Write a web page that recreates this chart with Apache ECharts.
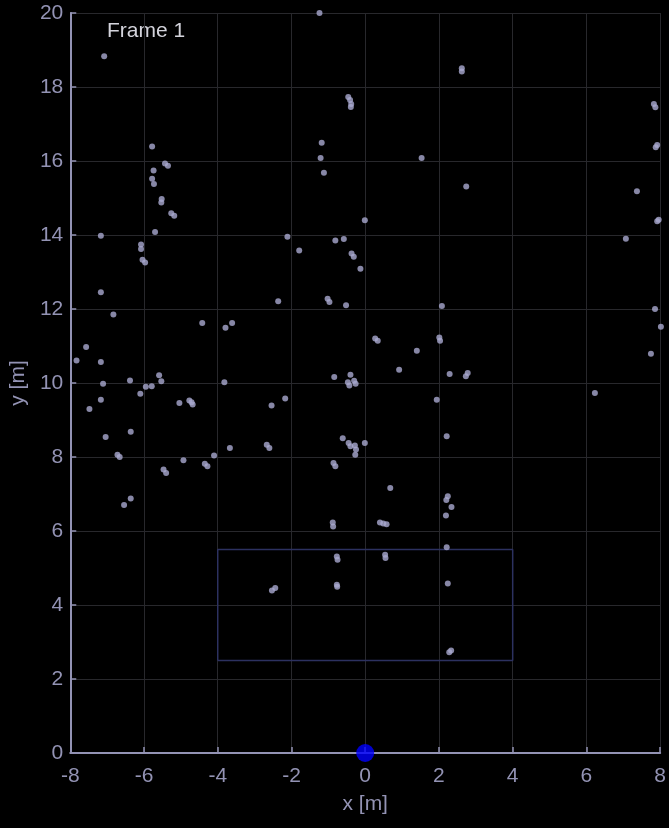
<!DOCTYPE html>
<html><head><meta charset="utf-8">
<script src="https://cdn.jsdelivr.net/npm/echarts@6/dist/echarts.min.js"></script>
<style>html,body{margin:0;padding:0;background:#000;}#c{width:669px;height:828px;}</style>
</head><body><div id="c"></div>
<script>
const pointX = [-7.08,-5.78,-5.74,-5.78,-5.73,-5.43,-5.35,-5.52,-5.53,-1.24,-0.46,-0.41,-0.38,-0.39,-1.18,-1.21,-1.12,1.53,2.62,2.62,7.83,7.87,7.92,7.88,2.74,7.37,-5.26,-5.18,-7.17,-5.70,-6.08,-6.08,-6.04,-5.97,-7.17,-6.83,-7.57,-7.83,-7.17,-4.42,-3.79,-3.61,-7.11,-6.38,-5.95,-5.79,-5.59,-5.53,-3.82,-6.10,-7.48,-7.17,-7.04,-6.36,-6.72,-6.66,-6.54,-6.36,-5.04,-4.77,-4.71,-4.68,-5.47,-5.40,-4.93,-4.35,-4.28,-4.10,-3.67,-0.01,-2.11,-1.79,-0.81,-0.58,-0.37,-0.31,-0.13,-2.36,-1.02,-0.97,-0.52,2.08,0.27,0.34,2.01,2.03,1.40,0.92,-0.84,-0.40,-0.47,-0.43,-0.30,-0.26,2.29,-2.54,-2.17,1.94,-2.67,-2.60,-0.61,-0.45,-0.40,-0.28,-0.25,-0.27,-0.01,-0.86,-0.81,0.68,2.21,2.24,2.20,2.34,2.19,-0.88,-0.87,0.40,0.49,0.58,2.21,-0.77,-0.75,0.54,0.55,6.23,7.92,7.96,7.07,7.86,8.02,7.75,2.73,2.78,-2.53,-2.44,-0.77,-0.76,2.24,2.28,2.33];
const pointY = [18.83,16.39,15.74,15.52,15.38,15.93,15.87,14.97,14.88,20.0,17.73,17.65,17.54,17.46,16.49,16.08,15.68,16.08,18.51,18.42,17.54,17.45,16.43,16.37,15.31,15.18,14.59,14.52,13.98,14.08,13.74,13.62,13.33,13.26,12.45,11.85,10.97,10.61,10.57,11.62,11.49,11.62,9.98,10.07,9.90,9.91,10.21,10.05,10.02,9.71,9.30,9.55,8.54,8.68,8.06,8.00,6.70,6.88,9.46,9.53,9.48,9.42,7.66,7.57,7.91,7.82,7.75,8.04,8.24,14.40,13.95,13.58,13.85,13.89,13.50,13.41,13.09,12.21,12.28,12.19,12.10,12.08,11.20,11.14,11.23,11.14,10.87,10.36,10.16,10.22,10.02,9.93,10.06,9.98,10.24,9.39,9.58,9.55,8.33,8.24,8.51,8.38,8.29,8.31,8.20,8.06,8.38,7.84,7.75,7.16,8.56,6.94,6.84,6.65,6.42,6.23,6.12,6.23,6.20,6.18,5.56,5.31,5.22,5.36,5.27,9.73,14.37,14.41,13.90,12.00,11.52,10.79,10.18,10.27,4.39,4.46,4.55,4.49,4.58,2.72,2.77];
const roiX = [-4, 4, 4, -4, -4];
const roiY = [2.5, 2.5, 5.5, 5.5, 2.5];
const sensorX = [0];
const sensorY = [0];
const frameLabel = 'Frame 1';

const pts = pointX.map((x, i) => [x, pointY[i]]);
const roi = roiX.map((x, i) => [x, roiY[i]]);
const sensor = sensorX.map((x, i) => [x, sensorY[i]]);

const axisCol = '#9393b4';
const font = 'Liberation Sans, Arial, sans-serif';
const chart = echarts.init(document.getElementById('c'), null, {renderer: 'canvas'});
chart.setOption({
  backgroundColor: '#000',
  animation: false,
  grid: {left: 70, top: 13, width: 591, height: 740, containLabel: false},
  xAxis: {
    type: 'value', min: -8, max: 8, interval: 2,
    name: 'x [m]', nameLocation: 'middle', nameGap: 41,
    nameTextStyle: {color: axisCol, fontSize: 21, fontFamily: font},
    axisLine: {show: true, onZero: false, lineStyle: {color: axisCol, width: 2}},
    axisTick: {show: true, inside: true, length: 6, lineStyle: {color: axisCol, width: 1.5}},
    axisLabel: {color: axisCol, fontSize: 21, fontFamily: font, margin: 13},
    splitLine: {show: true, lineStyle: {color: '#28282c', width: 1}}
  },
  yAxis: {
    type: 'value', min: 0, max: 20, interval: 2,
    name: 'y [m]', nameLocation: 'middle', nameGap: 38, nameRotate: 90,
    nameTextStyle: {color: axisCol, fontSize: 21, fontFamily: font},
    axisLine: {show: true, onZero: false, lineStyle: {color: axisCol, width: 2}},
    axisTick: {show: true, inside: true, length: 6, lineStyle: {color: axisCol, width: 1.5}},
    axisLabel: {color: axisCol, fontSize: 21, fontFamily: font, margin: 7},
    splitLine: {show: true, lineStyle: {color: '#28282c', width: 1}}
  },
  graphic: [{
    type: 'text', left: 107, top: 21,
    style: {text: frameLabel, fill: '#d4d4dc', fontSize: 21, fontFamily: font}
  }],
  series: [
    {
      type: 'line', data: roi, showSymbol: false, symbol: 'none',
      lineStyle: {color: '#2c3160', width: 1.5}, z: 1, silent: true
    },
    {
      type: 'scatter', data: pts, symbolSize: 6, clip: false,
      itemStyle: {color: '#a9a9d0'}, z: 3
    },
    {
      type: 'scatter', data: sensor, symbolSize: 18, clip: false,
      itemStyle: {color: '#0000ff'}, z: 5
    }
  ]
});
</script></body></html>
